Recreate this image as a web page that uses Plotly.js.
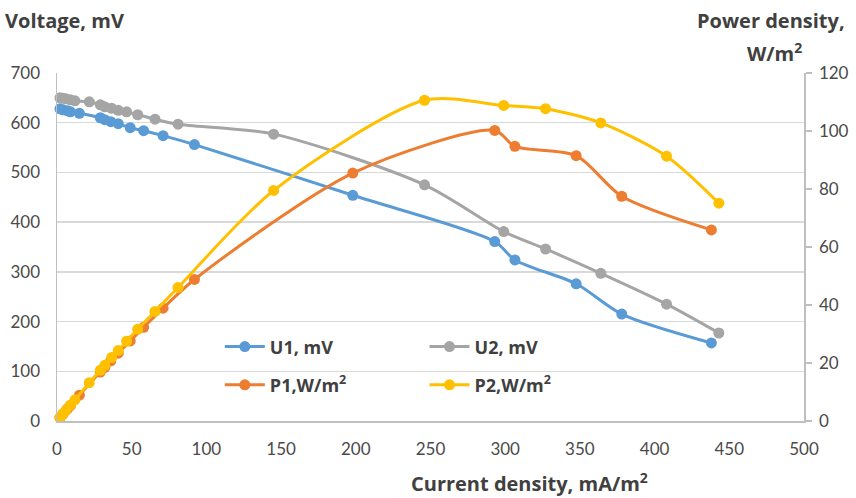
<!DOCTYPE html>
<html>
<head>
<meta charset="utf-8">
<script src="https://cdn.plot.ly/plotly-3.0.1.min.js"></script>
<style>html,body{margin:0;padding:0;background:#fff;}#chart{width:856px;height:498px;}</style>
</head>
<body>
<div id="chart"></div>
<script>
// Series 1: current density (mA/m2), voltage (mV), power density (W/m2)
const current1 = [2, 4, 7, 9, 15, 29, 32, 36, 41, 49, 58, 71, 92, 198, 293, 306.5, 347.5, 378, 438];
const voltage1 = [628, 626, 624, 622, 619, 610, 606, 602, 598, 590, 584, 574, 556, 454, 361, 324, 276, 215, 157];
const power1   = [1.2, 2.4, 4.2, 5.3, 8.9, 16.9, 18.5, 20.7, 23.4, 27.6, 32.3, 38.9, 48.8, 85.5, 100.2, 94.7, 91.5, 77.5, 65.9];

// Series 2
const current2 = [2, 4, 6, 9, 12, 21.6, 29, 32, 36.6, 41, 46.6, 54, 65.6, 81, 145, 246, 299, 327, 364, 408, 443];
const voltage2 = [650, 649, 648, 646, 644, 642, 636, 632, 629, 625, 622, 616, 607, 597, 577, 475, 381, 346, 297, 235, 177];
const power2   = [1.2, 2.5, 3.7, 5.5, 7.3, 13.2, 17.5, 19.2, 21.9, 24.3, 27.5, 31.6, 37.8, 46.0, 79.5, 110.6, 108.8, 107.7, 102.8, 91.3, 75.1];

const names = ['<b>U1, mV</b>', '<b>U2, mV</b>', '<b>P1,W/m<sup>2</sup></b>', '<b>P2,W/m<sup>2</sup></b>'];
const colors = ['#5B9BD5', '#A5A5A5', '#ED7D31', '#FFC000'];

function tr(x, y, i, yaxis, legend) {
  return {
    x: x, y: y, name: names[i], type: 'scatter', mode: 'lines+markers',
    yaxis: yaxis, legend: legend,
    line: {color: colors[i], width: 3, shape: 'spline', smoothing: 0.8},
    marker: {color: colors[i], size: 11},
    cliponaxis: false
  };
}

const data = [
  tr(current1, voltage1, 0, 'y', 'legend'),
  tr(current2, voltage2, 1, 'y', 'legend2'),
  tr(current1, power1, 2, 'y2', 'legend3'),
  tr(current2, power2, 3, 'y2', 'legend4')
];

const tickFont = {family: 'Lato, "Open Sans", sans-serif', size: 17, color: '#4a4a4a'};
const titleFont = {family: '"Open Sans", Lato, sans-serif', size: 20, color: '#404040'};
const legFont = {family: '"Open Sans", Lato, sans-serif', size: 18, color: '#404040'};

function leg(x, y) {
  return {x: x, y: y, xanchor: 'left', yanchor: 'middle', bgcolor: 'rgba(0,0,0,0)',
          font: legFont, itemwidth: 40, borderwidth: 0};
}

const layout = {
  width: 856, height: 498,
  margin: {l: 57, r: 52, t: 73, b: 77},
  paper_bgcolor: '#ffffff', plot_bgcolor: '#ffffff',
  showlegend: true,
  xaxis: {
    range: [0, 500], dtick: 50, tick0: 0, showgrid: false, zeroline: false,
    showline: true, linecolor: '#bfbfbf', linewidth: 1.5, ticks: '',
    tickfont: tickFont, ticklabelstandoff: 12
  },
  yaxis: {
    range: [0, 700], dtick: 100, tick0: 0, showgrid: true, gridcolor: '#d9d9d9', gridwidth: 1.5,
    zeroline: false, showline: true, linecolor: '#bfbfbf', linewidth: 1.5, ticks: '',
    tickfont: tickFont, ticklabelstandoff: 12
  },
  yaxis2: {
    range: [0, 120], dtick: 20, tick0: 0, overlaying: 'y', side: 'right', showgrid: false,
    zeroline: false, showline: true, linecolor: '#bfbfbf', linewidth: 1.5,
    ticks: 'outside', ticklen: 6, tickcolor: '#bfbfbf', tickwidth: 1.5,
    tickfont: tickFont, ticklabelstandoff: 4
  },
  legend: leg(0.218, 0.213),
  legend2: leg(0.492, 0.213),
  legend3: leg(0.218, 0.103),
  legend4: leg(0.492, 0.103),
  annotations: [
    {text: '<b>Voltage, mV</b>', xref: 'paper', yref: 'paper', x: -0.072, y: 1.152,
     xanchor: 'left', yanchor: 'middle', showarrow: false, font: titleFont},
    {text: '<b>Power density,</b>', xref: 'paper', yref: 'paper', x: 0.956, y: 1.152,
     xanchor: 'center', yanchor: 'middle', showarrow: false, font: titleFont},
    {text: '<b>W/m<sup>2</sup></b>', xref: 'paper', yref: 'paper', x: 0.96, y: 1.06,
     xanchor: 'center', yanchor: 'middle', showarrow: false, font: titleFont},
    {text: '<b>Current density, mA/m<sup>2</sup></b>', xref: 'paper', yref: 'paper', x: 0.633, y: -0.176,
     xanchor: 'center', yanchor: 'middle', showarrow: false, font: titleFont}
  ]
};

Plotly.newPlot('chart', data, layout, {displayModeBar: false, staticPlot: true});
</script>
</body>
</html>
